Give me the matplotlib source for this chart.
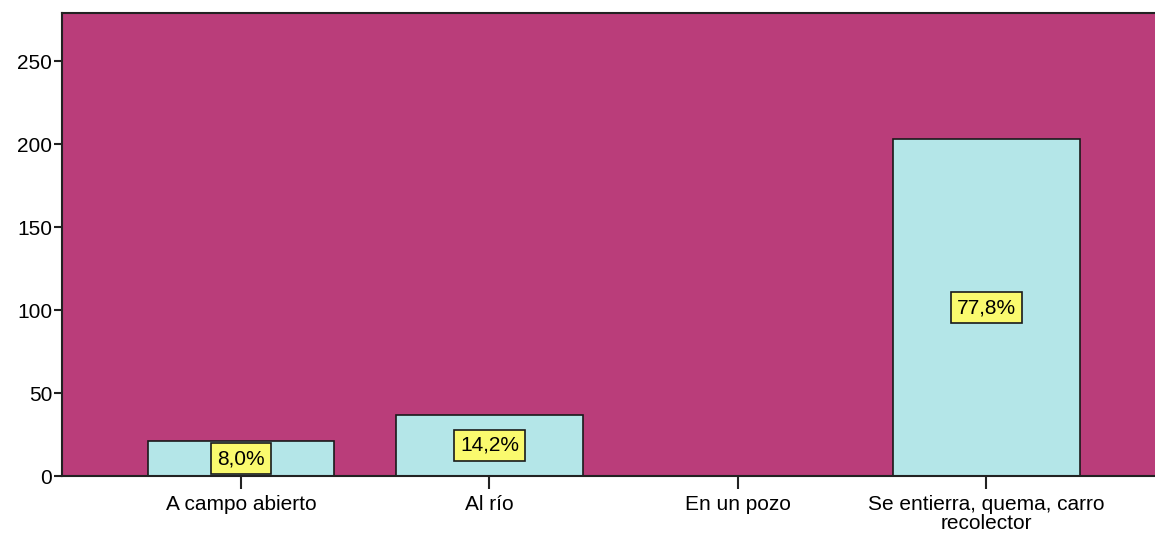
import numpy as np
import matplotlib.pyplot as plt

categories = ['A campo abierto', 'Al río', 'En un pozo', 'Se entierra, quema, carro\nrecolector']
counts = [21, 37, 0, 203]
pct_labels = ['8,0%', '14,2%', None, '77,8%']

plt.rcParams['font.family'] = ['Liberation Sans', 'DejaVu Sans']

fig = plt.figure(figsize=(11.55, 5.37), dpi=100)
ax = fig.add_axes([62 / 1155, 1 - 476 / 537, 1 - 62 / 1155 + 0.01, (476 - 13) / 537])
ax.set_facecolor('#BA3D7A')

x = np.arange(len(categories))
ax.bar(x, counts, width=0.75, color='#B4E6E8', edgecolor='#1a1a1a', linewidth=1.2, zorder=2)

for xi, v, lab in zip(x, counts, pct_labels):
    if lab is None:
        continue
    ax.text(xi, v / 2, lab, ha='center', va='center', fontsize=15, color='black', zorder=4,
            clip_on=False,
            bbox=dict(boxstyle='square,pad=0.3', facecolor='#FAFA6E', edgecolor='#1a1a1a', linewidth=1.2))

ax.set_xlim(-0.72, 3.685 + 0.04)
ax.set_ylim(0, 279)
ax.set_yticks([0, 50, 100, 150, 200, 250])
ax.set_xticks(x)
ax.set_xticklabels(categories, fontsize=15, linespacing=0.95)
ax.tick_params(axis='y', labelsize=15, length=6, width=1.5, color='#222222', pad=1)
ax.tick_params(axis='x', length=9, width=1.5, color='#222222', pad=5)

for side in ['left', 'bottom', 'top']:
    ax.spines[side].set_linewidth(1.5)
    ax.spines[side].set_color('#222222')
ax.spines['right'].set_visible(False)

fig.savefig('out.png', dpi=100)
